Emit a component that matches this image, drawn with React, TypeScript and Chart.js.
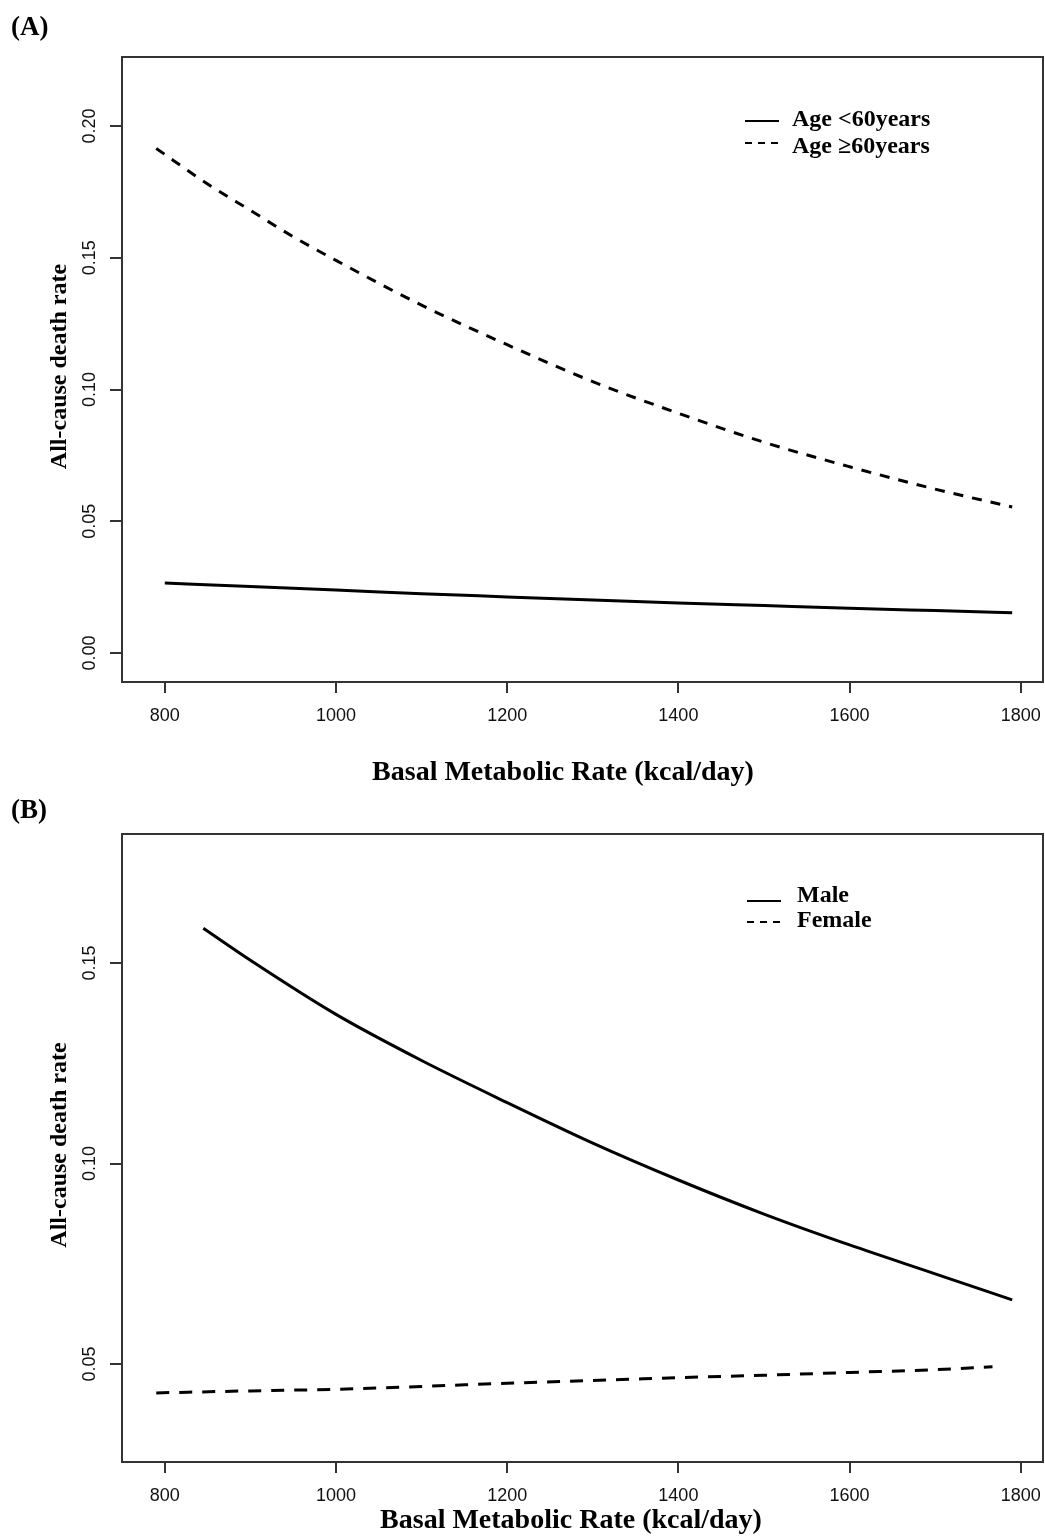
import React, { useEffect, useRef } from "react";
import { Chart, registerables } from "chart.js";
Chart.register(...registerables);

// ---- Data ----
const xTickValues = [800, 1000, 1200, 1400, 1600, 1800];
const xTickLabels = ["800", "1000", "1200", "1400", "1600", "1800"];

const yTickValuesA = [0, 0.05, 0.1, 0.15, 0.2];
const yTickLabelsA = ["0.00", "0.05", "0.10", "0.15", "0.20"];
const yTickValuesB = [0.05, 0.1, 0.15];
const yTickLabelsB = ["0.05", "0.10", "0.15"];

// Panel A: Age < 60 years (solid)
const bmrAgeYoung = [800, 900, 1000, 1100, 1200, 1300, 1400, 1500, 1600, 1700, 1790];
const rateAgeYoung = [0.0266, 0.0252, 0.0239, 0.0225, 0.0213, 0.0201, 0.019, 0.018, 0.017, 0.0161, 0.0153];
// Panel A: Age >= 60 years (dashed)
const bmrAgeOld = [790, 850, 900, 950, 1000, 1100, 1200, 1300, 1400, 1500, 1600, 1700, 1790];
const rateAgeOld = [0.1915, 0.178, 0.168, 0.158, 0.149, 0.132, 0.117, 0.103, 0.091, 0.08, 0.0707, 0.0622, 0.0554];

// Panel B: Male (solid)
const bmrMale = [845, 900, 1000, 1100, 1200, 1300, 1400, 1500, 1600, 1700, 1790];
const rateMale = [0.1587, 0.1507, 0.1372, 0.1257, 0.1152, 0.1051, 0.0959, 0.0874, 0.0797, 0.0725, 0.066];
// Panel B: Female (dashed)
const bmrFemale = [790, 900, 1000, 1100, 1200, 1300, 1400, 1500, 1600, 1700, 1767];
const rateFemale = [0.0428, 0.0433, 0.0437, 0.0444, 0.0452, 0.0459, 0.0466, 0.0472, 0.0479, 0.0486, 0.0493];

const legendA = ["Age <60years", "Age \u226560years"];
const legendB = ["Male", "Female"];
const xTitle = "Basal Metabolic Rate (kcal/day)";
const yTitle = "All-cause death rate";

const SERIF = '"Liberation Serif", "Times New Roman", serif';
const SANS = '"Liberation Sans", Arial, sans-serif';

type PanelCfg = {
  tag: string;
  tagY: number;
  height: number;
  padding: { left: number; top: number; right: number; bottom: number };
  xMin: number;
  xMax: number;
  yMin: number;
  yMax: number;
  yTicks: number[];
  yLabels: string[];
  series: { xs: number[]; ys: number[]; dash: number[] }[];
  legend: string[];
  legendLineX: [number, number];
  legendTextX: number;
  legendBaselines: number[];
  legendLineY: number[];
  xTitleX: number;
  xTitleY: number;
  yTitleX: number;
};

function makeDecor(cfg: PanelCfg) {
  return {
    id: "decor",
    afterDatasetsDraw(chart: any) {
      const { ctx, chartArea: a, scales } = chart;
      const xs = scales.x;
      const ys = scales.y;
      ctx.save();
      // box
      ctx.strokeStyle = "#333";
      ctx.lineWidth = 2;
      ctx.setLineDash([]);
      ctx.strokeRect(a.left, a.top, a.right - a.left, a.bottom - a.top);
      // ticks
      ctx.beginPath();
      xTickValues.forEach((v) => {
        const px = Math.round(xs.getPixelForValue(v));
        ctx.moveTo(px, a.bottom);
        ctx.lineTo(px, a.bottom + 11);
      });
      cfg.yTicks.forEach((v) => {
        const py = Math.round(ys.getPixelForValue(v));
        ctx.moveTo(a.left, py);
        ctx.lineTo(a.left - 12, py);
      });
      ctx.stroke();
      // tick labels
      ctx.fillStyle = "#111";
      ctx.font = `18px ${SANS}`;
      ctx.textAlign = "center";
      ctx.textBaseline = "middle";
      xTickValues.forEach((v, i) => {
        ctx.fillText(xTickLabels[i], xs.getPixelForValue(v), a.bottom + 34);
      });
      cfg.yTicks.forEach((v, i) => {
        const py = ys.getPixelForValue(v);
        ctx.save();
        ctx.translate(a.left - 32, py);
        ctx.rotate(-Math.PI / 2);
        ctx.fillText(cfg.yLabels[i], 0, 0);
        ctx.restore();
      });
      // axis titles
      ctx.fillStyle = "#000";
      ctx.font = `bold 28px ${SERIF}`;
      ctx.fillText(xTitle, cfg.xTitleX, cfg.xTitleY);
      ctx.save();
      ctx.font = `bold 24px ${SERIF}`;
      ctx.translate(cfg.yTitleX, (a.top + a.bottom) / 2 - 3);
      ctx.rotate(-Math.PI / 2);
      ctx.fillText(yTitle, 0, 0);
      ctx.restore();
      // panel tag
      ctx.textAlign = "left";
      ctx.font = `bold 27px ${SERIF}`;
      ctx.fillText(cfg.tag, 11, cfg.tagY);
      // legend
      ctx.font = `bold 24px ${SERIF}`;
      ctx.textBaseline = "alphabetic";
      cfg.legend.forEach((label, i) => {
        ctx.beginPath();
        ctx.lineWidth = 2;
        ctx.strokeStyle = "#000";
        ctx.setLineDash(cfg.series[i].dash.length ? [7, 6] : []);
        ctx.moveTo(cfg.legendLineX[0], cfg.legendLineY[i]);
        ctx.lineTo(cfg.legendLineX[1], cfg.legendLineY[i]);
        ctx.stroke();
        ctx.setLineDash([]);
        ctx.fillText(label, cfg.legendTextX, cfg.legendBaselines[i]);
      });
      ctx.restore();
    },
  };
}

function Panel({ cfg }: { cfg: PanelCfg }) {
  const ref = useRef<HTMLCanvasElement | null>(null);
  useEffect(() => {
    if (!ref.current) return;
    const chart = new Chart(ref.current, {
      type: "line",
      data: {
        datasets: cfg.series.map((s) => ({
          data: s.xs.map((x, i) => ({ x, y: s.ys[i] })),
          borderColor: "#000",
          borderWidth: 3,
          borderDash: s.dash,
          pointRadius: 0,
          fill: false,
          cubicInterpolationMode: "monotone" as const,
        })),
      },
      options: {
        responsive: false,
        animation: false,
        events: [],
        layout: { padding: cfg.padding },
        plugins: { legend: { display: false }, tooltip: { enabled: false } },
        scales: {
          x: { type: "linear", min: cfg.xMin, max: cfg.xMax, display: false },
          y: { type: "linear", min: cfg.yMin, max: cfg.yMax, display: false },
        },
      },
      plugins: [makeDecor(cfg)],
    } as any);
    return () => chart.destroy();
  }, [cfg]);
  return <canvas ref={ref} width={1045} height={cfg.height} style={{ display: "block" }} />;
}

const panelA: PanelCfg = {
  tag: "(A)",
  tagY: 28,
  height: 790,
  padding: { left: 122, top: 57, right: 2, bottom: 108 },
  xMin: 750,
  xMax: 1826,
  yMin: -0.011,
  yMax: 0.2262,
  yTicks: yTickValuesA,
  yLabels: yTickLabelsA,
  series: [
    { xs: bmrAgeYoung, ys: rateAgeYoung, dash: [] },
    { xs: bmrAgeOld, ys: rateAgeOld, dash: [10, 9] },
  ],
  legend: legendA,
  legendLineX: [745, 779],
  legendTextX: 792,
  legendBaselines: [126, 153],
  legendLineY: [121, 143],
  xTitleX: 563,
  xTitleY: 773,
  yTitleX: 60,
};

const panelB: PanelCfg = {
  tag: "(B)",
  tagY: 21,
  height: 747,
  padding: { left: 122, top: 44, right: 2, bottom: 75 },
  xMin: 750,
  xMax: 1826,
  yMin: 0.02556,
  yMax: 0.1822,
  yTicks: yTickValuesB,
  yLabels: yTickLabelsB,
  series: [
    { xs: bmrMale, ys: rateMale, dash: [] },
    { xs: bmrFemale, ys: rateFemale, dash: [13, 10] },
  ],
  legend: legendB,
  legendLineX: [747, 781],
  legendTextX: 797,
  legendBaselines: [112, 137],
  legendLineY: [111, 132],
  xTitleX: 571,
  xTitleY: 731,
  yTitleX: 60,
};

export default function App() {
  return (
    <div style={{ position: "absolute", left: 0, top: 0, width: 1045, height: 1537, background: "#fff" }}>
      <Panel cfg={panelA} />
      <Panel cfg={panelB} />
    </div>
  );
}
